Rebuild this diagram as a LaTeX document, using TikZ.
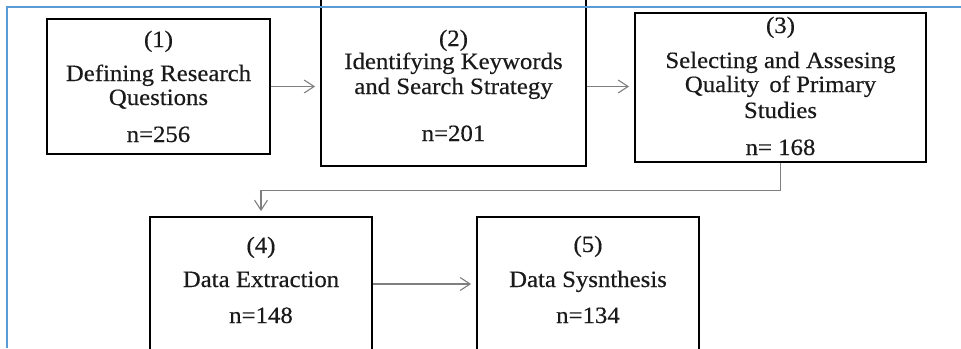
\documentclass[tikz,border=0pt]{standalone}
\usepackage{fontspec}
\setmainfont[FakeStretch=1.06,FakeBold=0.4]{Liberation Serif}
\usetikzlibrary{arrows.meta}
\definecolor{frameblue}{HTML}{5B9BD5}
\definecolor{conngray}{HTML}{7F7F7F}
\definecolor{txtcol}{HTML}{1A1A1A}
\begin{document}
\begin{tikzpicture}[x=1pt,y=-1pt,
  box/.style={draw=black,line width=1.8pt,fill=white,inner sep=0pt},
  conn/.style={draw=conngray,line width=1.1pt,-{Straight Barb[length=10pt,width=13pt,line width=1.1pt]},shorten >=5pt},
  txt/.style={anchor=base,inner sep=0pt,font=\fontsize{23.4}{25}\selectfont,text=txtcol}]
\useasboundingbox (0,0) rectangle (961,348);
\fill[white] (0,0) rectangle (961,348);
% boxes
\node[box,minimum width=223pt,minimum height=135pt] (b1) at (158.5,86.5) {};
\node[box,minimum width=265pt,minimum height=169pt] (b2) at (453.5,81.5) {};
\node[box,minimum width=291pt,minimum height=149pt] (b3) at (780.5,87.5) {};
\node[box,minimum width=222pt,minimum height=134pt] (b4) at (261,284) {};
\node[box,minimum width=222pt,minimum height=134pt] (b5) at (588,284) {};
% texts
\node[txt] (t1a) at (158.5,47) {(1)};
\node[txt] (t1b) at (158.5,81) {Defining Research};
\node[txt] (t1c) at (158.5,105) {Questions};
\node[txt] (t1d) at (158.5,142) {n=256};
\node[txt] (t2a) at (453.5,46) {(2)};
\node[txt] (t2b) at (453.5,69) {Identifying Keywords};
\node[txt] (t2c) at (453.5,94) {and Search Strategy};
\node[txt] (t2d) at (453.5,141) {n=201};
\node[txt] (t3a) at (780.5,33) {(3)};
\node[txt] (t3b) at (780.5,68) {Selecting and Assesing};
\node[txt] (t3c) at (780.5,92) {Quality\, of Primary};
\node[txt] (t3d) at (780.5,118) {Studies};
\node[txt] (t3e) at (780.5,155) {n= 168};
\node[txt] (t4a) at (261,253) {(4)};
\node[txt] (t4b) at (261,287) {Data Extraction};
\node[txt] (t4c) at (261,323) {n=148};
\node[txt] (t5a) at (588,252) {(5)};
\node[txt] (t5b) at (588,287) {Data Sysnthesis};
\node[txt] (t5c) at (588,323) {n=134};
% connectors
\draw[conn] (b1.east) -- (b1.east -| b2.west);
\draw[conn] (b1.east -| b2.east) -- (b1.east -| b3.west);
\draw[conn] (b3.south) -- ++(0,28) -| (b4.north);
\draw[conn] (b4.east) -- (b5.west);
% frame
\draw[frameblue,line width=2.5pt] (7,348) -- (7,7) -- (961,7);
\end{tikzpicture}
\end{document}
